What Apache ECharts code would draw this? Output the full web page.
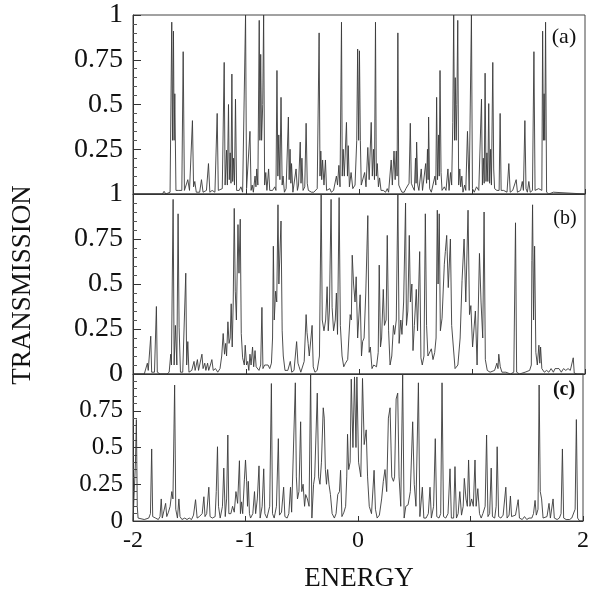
<!DOCTYPE html>
<html>
<head>
<meta charset="utf-8">
<script src="https://cdn.jsdelivr.net/npm/echarts@6/dist/echarts.min.js"></script>
<style>
html,body{margin:0;padding:0;background:#fff;}
#chart{width:592px;height:596px;}
</style>
</head>
<body>
<div id="chart"></div>
<script>
// ---- data: [energy, transmission] ----
const panelA = [[-2.0,0],[-1.74,0],[-1.725,0.015],[-1.71,0],[-1.672,0.01],[-1.657,0.96],[-1.650,0.3],[-1.642,0.91],[-1.636,0.3],[-1.63,0.56],[-1.62,0.02],[-1.60,0.02],[-1.595,0.03],[-1.585,0.01],[-1.568,0.02],[-1.556,0.795],[-1.545,0.02],[-1.53,0.02],[-1.515,0.08],[-1.50,0.02],[-1.487,0.03],[-1.474,0.41],[-1.464,0.04],[-1.453,0.07],[-1.44,0.01],[-1.41,0.01],[-1.394,0.08],[-1.38,0.01],[-1.35,0.02],[-1.332,0.17],[-1.32,0.01],[-1.30,0.02],[-1.29,0.03],[-1.275,0.01],[-1.265,0.02],[-1.255,0.45],[-1.245,0.02],[-1.21,0.03],[-1.193,0.735],[-1.185,0.05],[-1.172,0.245],[-1.165,0.05],[-1.155,0.50],[-1.148,0.08],[-1.14,0.23],[-1.133,0.06],[-1.125,0.67],[-1.118,0.07],[-1.11,0.2],[-1.102,0.05],[-1.093,0.53],[-1.083,0.02],[-1.06,0.02],[-1.045,0.04],[-1.03,0.01],[-1.015,0.02],[-1.004,1.0],[-0.995,0.03],[-0.985,0.02],[-0.965,0.35],[-0.955,0.02],[-0.945,0.05],[-0.935,0.01],[-0.92,0.1],[-0.912,0.04],[-0.905,0.14],[-0.895,0.05],[-0.883,0.97],[-0.877,0.3],[-0.87,0.78],[-0.862,0.3],[-0.852,0.5],[-0.844,1.0],[-0.835,0.05],[-0.825,0.12],[-0.815,0.02],[-0.80,0.14],[-0.79,0.02],[-0.765,0.02],[-0.745,0.04],[-0.735,0.02],[-0.726,0.69],[-0.718,0.1],[-0.71,0.33],[-0.70,0.08],[-0.69,0.54],[-0.68,0.05],[-0.672,0.1],[-0.66,0.01],[-0.645,0.03],[-0.625,0.43],[-0.618,0.08],[-0.61,0.25],[-0.603,0.06],[-0.597,0.17],[-0.585,0.01],[-0.57,0.02],[-0.557,0.14],[-0.545,0.02],[-0.535,0.05],[-0.52,0.29],[-0.513,0.06],[-0.505,0.2],[-0.495,0.02],[-0.48,0.04],[-0.468,0.395],[-0.458,0.06],[-0.448,0.02],[-0.435,0.03],[-0.42,0.01],[-0.40,0.01],[-0.385,0.01],[-0.37,0.03],[-0.353,0.90],[-0.345,0.1],[-0.338,0.24],[-0.33,0.08],[-0.322,0.19],[-0.31,0.05],[-0.297,0.19],[-0.287,0.02],[-0.27,0.01],[-0.258,0.03],[-0.245,0.01],[-0.225,0.02],[-0.20,0.1],[-0.19,0.05],[-0.178,0.16],[-0.168,0.04],[-0.155,0.96],[-0.148,0.1],[-0.14,0.25],[-0.13,0.1],[-0.111,0.40],[-0.102,0.1],[-0.095,0.27],[-0.085,0.04],[-0.07,0.12],[-0.055,0.03],[-0.035,0.05],[-0.02,0.3],[-0.012,0.81],[-0.003,0.3],[0.004,0.8],[0.012,0.3],[0.02,0.05],[0.035,0.04],[0.05,0.12],[0.062,0.04],[0.078,0.26],[0.09,0.08],[0.108,0.40],[0.118,0.1],[0.128,0.25],[0.137,0.08],[0.146,0.96],[0.153,0.1],[0.162,0.17],[0.172,0.04],[0.182,0.09],[0.195,0.02],[0.215,0.02],[0.235,0.01],[0.25,0.03],[0.262,0.01],[0.272,0.02],[0.285,0.19],[0.295,0.05],[0.31,0.24],[0.32,0.08],[0.33,0.24],[0.337,0.1],[0.344,0.90],[0.352,0.05],[0.365,0.03],[0.38,0.01],[0.40,0.01],[0.415,0.03],[0.43,0.02],[0.443,0.06],[0.454,0.395],[0.463,0.06],[0.475,0.04],[0.49,0.02],[0.5,0.2],[0.505,0.06],[0.51,0.29],[0.52,0.05],[0.53,0.02],[0.551,0.14],[0.562,0.02],[0.575,0.01],[0.59,0.17],[0.598,0.06],[0.606,0.25],[0.612,0.08],[0.616,0.43],[0.625,0.03],[0.64,0.01],[0.655,0.02],[0.672,0.1],[0.68,0.05],[0.687,0.54],[0.695,0.08],[0.705,0.33],[0.71,0.1],[0.717,0.69],[0.726,0.12],[0.735,0.02],[0.755,0.04],[0.77,0.02],[0.787,0.14],[0.797,0.02],[0.81,0.12],[0.82,0.05],[0.83,0.4],[0.838,1.0],[0.845,0.3],[0.852,0.65],[0.86,0.3],[0.866,0.5],[0.874,0.97],[0.882,0.05],[0.892,0.14],[0.9,0.04],[0.91,0.1],[0.92,0.01],[0.935,0.05],[0.945,0.02],[0.96,0.35],[0.975,0.02],[0.985,0.03],[0.995,1.0],[1.004,0.03],[1.02,0.01],[1.04,0.04],[1.06,0.02],[1.075,0.03],[1.084,0.53],[1.092,0.05],[1.1,0.2],[1.108,0.06],[1.116,0.675],[1.124,0.07],[1.132,0.23],[1.14,0.07],[1.148,0.505],[1.156,0.06],[1.165,0.25],[1.172,0.05],[1.184,0.735],[1.192,0.14],[1.2,0.03],[1.22,0.02],[1.24,0.02],[1.249,0.45],[1.258,0.02],[1.28,0.02],[1.295,0.03],[1.31,0.01],[1.326,0.17],[1.338,0.01],[1.36,0.02],[1.375,0.01],[1.391,0.08],[1.402,0.01],[1.43,0.02],[1.445,0.07],[1.455,0.02],[1.468,0.41],[1.478,0.03],[1.49,0.01],[1.503,0.07],[1.515,0.01],[1.535,0.02],[1.548,0.795],[1.558,0.02],[1.575,0.01],[1.59,0.03],[1.605,0.02],[1.618,0.02],[1.625,0.91],[1.632,0.3],[1.638,0.56],[1.644,0.3],[1.651,0.96],[1.66,0.01],[1.68,0],[1.72,0.01],[1.73,0],[2.0,0]];

const panelB = [[-2.0,0],[-1.90,0],[-1.885,0.01],[-1.873,0.06],[-1.865,0.02],[-1.858,0.01],[-1.843,0.21],[-1.835,0.01],[-1.81,0.01],[-1.793,0.375],[-1.785,0.01],[-1.76,0],[-1.70,0],[-1.68,0.01],[-1.666,0.11],[-1.66,0.05],[-1.645,0.97],[-1.636,0.05],[-1.625,0.27],[-1.612,0.05],[-1.601,0.89],[-1.592,0.26],[-1.58,0.01],[-1.56,0.01],[-1.533,0.56],[-1.525,0.05],[-1.515,0.18],[-1.505,0.01],[-1.48,0.02],[-1.46,0.07],[-1.45,0.02],[-1.43,0.08],[-1.42,0.02],[-1.405,0.03],[-1.39,0.11],[-1.38,0.03],[-1.365,0.06],[-1.355,0.02],[-1.34,0.06],[-1.33,0.02],[-1.315,0.05],[-1.302,0.08],[-1.29,0.02],[-1.27,0.03],[-1.25,0.01],[-1.23,0.03],[-1.215,0.1],[-1.202,0.225],[-1.19,0.11],[-1.18,0.17],[-1.172,0.1],[-1.16,0.29],[-1.15,0.17],[-1.14,0.2],[-1.131,0.39],[-1.122,0.15],[-1.113,0.4],[-1.104,0.92],[-1.095,0.46],[-1.085,0.3],[-1.071,0.83],[-1.062,0.56],[-1.051,0.86],[-1.042,0.225],[-1.03,0.09],[-1.015,0.05],[-1.007,0.16],[-0.995,0.05],[-0.985,0.07],[-0.975,0.02],[-0.965,0.11],[-0.955,0.05],[-0.942,0.15],[-0.932,0.04],[-0.92,0.13],[-0.91,0.04],[-0.895,0.05],[-0.885,0.02],[-0.87,0.05],[-0.859,0.37],[-0.85,0.03],[-0.835,0.05],[-0.82,0.04],[-0.805,0.05],[-0.79,0.03],[-0.775,0.06],[-0.765,0.2],[-0.758,0.71],[-0.75,0.3],[-0.738,0.46],[-0.728,0.4],[-0.717,0.94],[-0.709,0.5],[-0.7,0.5],[-0.69,0.85],[-0.68,0.24],[-0.67,0.1],[-0.655,0.02],[-0.63,0.02],[-0.608,0.07],[-0.595,0.01],[-0.575,0.02],[-0.552,0.18],[-0.54,0.06],[-0.53,0.04],[-0.515,0.01],[-0.5,0.02],[-0.485,0.07],[-0.468,0.33],[-0.46,0.23],[-0.45,0.17],[-0.44,0.1],[-0.425,0.2],[-0.415,0.27],[-0.405,0.04],[-0.39,0.01],[-0.37,0.02],[-0.35,0.1],[-0.335,1.0],[-0.325,0.3],[-0.31,0.24],[-0.295,0.3],[-0.282,0.485],[-0.272,0.24],[-0.262,0.35],[-0.247,0.97],[-0.238,0.37],[-0.225,0.24],[-0.21,0.3],[-0.2,0.45],[-0.19,0.22],[-0.176,0.98],[-0.165,0.27],[-0.15,0.1],[-0.135,0.04],[-0.12,0.06],[-0.1,0.08],[-0.09,0.2],[-0.078,0.33],[-0.068,0.3],[-0.06,0.66],[-0.048,0.5],[-0.035,0.4],[-0.025,0.54],[-0.012,0.2],[0.01,0.44],[0.022,0.1],[0.032,0.18],[0.045,0.2],[0.06,0.45],[0.078,0.88],[0.09,0.12],[0.1,0.15],[0.115,0.03],[0.13,0.05],[0.155,0.04],[0.17,0.12],[0.179,0.605],[0.19,0.15],[0.2,0.2],[0.215,0.47],[0.225,0.27],[0.24,0.3],[0.25,0.77],[0.262,0.24],[0.275,0.05],[0.29,0.1],[0.305,0.27],[0.315,0.22],[0.33,0.3],[0.344,1.0],[0.355,0.17],[0.37,0.3],[0.38,0.22],[0.395,0.4],[0.412,0.95],[0.42,0.27],[0.432,0.35],[0.445,0.77],[0.455,0.4],[0.468,0.5],[0.478,0.13],[0.49,0.27],[0.507,0.47],[0.518,0.24],[0.537,0.68],[0.548,0.09],[0.56,0.05],[0.575,0.1],[0.587,0.89],[0.598,0.27],[0.61,0.1],[0.625,0.09],[0.64,0.14],[0.655,0.08],[0.67,0.12],[0.682,0.2],[0.693,0.91],[0.7,0.5],[0.71,0.89],[0.72,0.24],[0.735,0.31],[0.755,0.61],[0.764,0.68],[0.776,0.77],[0.79,0.48],[0.809,0.75],[0.82,0.27],[0.835,0.15],[0.85,0.03],[0.875,0.05],[0.895,0.2],[0.912,0.52],[0.93,0.75],[0.945,0.4],[0.965,0.91],[0.978,0.33],[0.99,0.38],[1.005,0.15],[1.03,0.35],[1.045,0.05],[1.066,0.67],[1.08,0.4],[1.095,0.2],[1.107,0.9],[1.118,0.08],[1.135,0.02],[1.16,0.01],[1.2,0.02],[1.22,0.06],[1.23,0.03],[1.237,0.11],[1.25,0.04],[1.265,0.01],[1.3,0.01],[1.34,0],[1.37,0.01],[1.385,0.84],[1.395,0.01],[1.42,0],[1.47,0.01],[1.51,0.02],[1.525,0.05],[1.53,0.63],[1.536,0.94],[1.545,0.3],[1.554,0.71],[1.565,0.12],[1.578,0.05],[1.592,0.16],[1.6,0.06],[1.607,0.15],[1.618,0.03],[1.64,0.01],[1.66,0.02],[1.68,0.01],[1.7,0.03],[1.72,0.01],[1.735,0.03],[1.75,0.02],[1.77,0.03],[1.79,0.01],[1.81,0.03],[1.83,0.02],[1.85,0.03],[1.87,0.02],[1.885,0.01],[1.896,0.09],[1.905,0.005],[1.93,0],[2.0,0]];

const panelC = [[-2.0,0],[-1.985,0.01],[-1.978,0.4],[-1.97,0.69],[-1.962,0.1],[-1.955,0.02],[-1.94,0.01],[-1.9,0.01],[-1.86,0.02],[-1.845,0.05],[-1.834,0.49],[-1.825,0.03],[-1.8,0.02],[-1.775,0.01],[-1.76,0.03],[-1.749,0.15],[-1.74,0.02],[-1.73,0.03],[-1.71,0.12],[-1.7,0.03],[-1.685,0.06],[-1.67,0.1],[-1.655,0.2],[-1.645,0.15],[-1.63,0.925],[-1.62,0.08],[-1.605,0.02],[-1.592,0.15],[-1.582,0.03],[-1.565,0.01],[-1.54,0.02],[-1.52,0.01],[-1.5,0.02],[-1.48,0.01],[-1.462,0.04],[-1.444,0.145],[-1.43,0.02],[-1.41,0.03],[-1.385,0.05],[-1.37,0.165],[-1.36,0.03],[-1.345,0.05],[-1.326,0.23],[-1.315,0.03],[-1.295,0.02],[-1.27,0.03],[-1.26,0.2],[-1.249,0.505],[-1.24,0.1],[-1.225,0.02],[-1.205,0.1],[-1.193,0.36],[-1.18,0.03],[-1.168,0.15],[-1.157,0.585],[-1.148,0.05],[-1.13,0.05],[-1.115,0.1],[-1.1,0.06],[-1.085,0.2],[-1.07,0.12],[-1.054,0.41],[-1.045,0.05],[-1.035,0.13],[-1.025,0.05],[-1.01,0.28],[-1.0,0.415],[-0.99,0.27],[-0.982,0.1],[-0.975,0.27],[-0.965,0.05],[-0.955,0.02],[-0.935,0.05],[-0.92,0.2],[-0.91,0.05],[-0.895,0.15],[-0.88,0.375],[-0.87,0.02],[-0.852,0.1],[-0.838,0.355],[-0.828,0.05],[-0.81,0.02],[-0.795,0.02],[-0.785,0.1],[-0.77,0.935],[-0.76,0.05],[-0.745,0.02],[-0.725,0.1],[-0.708,0.56],[-0.698,0.04],[-0.68,0.06],[-0.661,0.23],[-0.65,0.03],[-0.63,0.02],[-0.615,0.05],[-0.6,0.23],[-0.59,0.06],[-0.575,0.05],[-0.557,0.94],[-0.548,0.3],[-0.538,0.15],[-0.525,0.2],[-0.51,0.675],[-0.5,0.2],[-0.488,0.25],[-0.475,0.1],[-0.465,0.18],[-0.45,0.15],[-0.435,0.1],[-0.421,1.0],[-0.41,0.02],[-0.395,0.25],[-0.385,0.3],[-0.362,0.87],[-0.35,0.3],[-0.338,0.25],[-0.325,0.4],[-0.309,0.77],[-0.3,0.7],[-0.29,0.35],[-0.28,0.25],[-0.27,0.35],[-0.258,0.25],[-0.245,0.18],[-0.23,0.05],[-0.21,0.02],[-0.195,0.05],[-0.18,0.18],[-0.165,0.2],[-0.155,0.345],[-0.143,0.03],[-0.125,0.06],[-0.11,0.1],[-0.1,0.3],[-0.093,0.59],[-0.083,0.35],[-0.07,0.4],[-0.06,0.965],[-0.045,0.5],[-0.031,0.98],[-0.018,0.5],[-0.01,0.98],[0.005,0.4],[0.025,0.3],[0.04,0.97],[0.055,0.52],[0.073,0.62],[0.085,0.3],[0.1,0.1],[0.12,0.05],[0.143,0.345],[0.155,0.08],[0.17,0.02],[0.19,0.04],[0.21,0.15],[0.225,0.27],[0.24,0.35],[0.255,0.2],[0.27,0.7],[0.285,0.77],[0.3,0.3],[0.315,0.27],[0.325,0.3],[0.339,0.83],[0.353,0.87],[0.365,0.3],[0.38,0.1],[0.397,1.0],[0.41,0.02],[0.425,0.1],[0.445,0.11],[0.465,0.2],[0.486,0.675],[0.5,0.25],[0.515,0.1],[0.537,0.94],[0.55,0.03],[0.572,0.23],[0.585,0.02],[0.605,0.02],[0.625,0.05],[0.64,0.23],[0.652,0.02],[0.672,0.1],[0.687,0.56],[0.7,0.03],[0.72,0.02],[0.735,0.05],[0.747,0.94],[0.76,0.03],[0.78,0.02],[0.8,0.05],[0.818,0.355],[0.83,0.02],[0.85,0.02],[0.862,0.37],[0.875,0.02],[0.89,0.05],[0.905,0.2],[0.92,0.04],[0.935,0.1],[0.945,0.29],[0.96,0.15],[0.972,0.1],[0.983,0.415],[0.995,0.1],[1.01,0.15],[1.025,0.1],[1.04,0.415],[1.05,0.1],[1.065,0.22],[1.08,0.05],[1.095,0.02],[1.11,0.05],[1.13,0.1],[1.143,0.585],[1.155,0.03],[1.17,0.05],[1.184,0.36],[1.195,0.03],[1.215,0.02],[1.228,0.1],[1.237,0.505],[1.25,0.03],[1.27,0.02],[1.29,0.04],[1.314,0.23],[1.325,0.02],[1.343,0.04],[1.355,0.17],[1.365,0.03],[1.38,0.02],[1.4,0.04],[1.424,0.145],[1.435,0.02],[1.46,0.01],[1.48,0.03],[1.5,0.01],[1.52,0.02],[1.545,0.02],[1.56,0.05],[1.574,0.14],[1.585,0.04],[1.6,0.08],[1.61,0.925],[1.62,0.2],[1.632,0.15],[1.645,0.02],[1.66,0.02],[1.68,0.03],[1.698,0.12],[1.71,0.02],[1.722,0.03],[1.734,0.15],[1.745,0.02],[1.77,0.01],[1.79,0.02],[1.805,0.05],[1.817,0.49],[1.828,0.02],[1.85,0.01],[1.88,0.01],[1.9,0.02],[1.915,0.03],[1.93,0.08],[1.941,0.69],[1.952,0.02],[1.97,0],[2.0,0]];

const xTickValues = [-2, -1, 0, 1, 2];
const yLabelsA = [0.25, 0.5, 0.75, 1];
const yLabelsB = [0, 0.25, 0.5, 0.75, 1];
const yLabelsC = [0, 0.25, 0.5, 0.75];
const panelTags = ['(a)', '(b)', '(c)'];
const xTitle = 'ENERGY';
const yTitle = 'TRANSMISSION';

// ---- chart ----
const SERIF = '"Liberation Serif", "Times New Roman", "DejaVu Serif", serif';
const chart = echarts.init(document.getElementById('chart'), null, {renderer: 'canvas'});

const grids = [
  {left: 133, right: 7, top: 15, height: 179},
  {left: 133, right: 7, top: 194, height: 180},
  {left: 133, right: 7, top: 374, height: 147}
].map(g => Object.assign(g, {show: true, borderColor: '#444', borderWidth: 1, backgroundColor: 'transparent'}));

function xAx(i, showLabels) {
  return {
    type: 'value', gridIndex: i, min: -2, max: 2, interval: 1,
    axisLine: {show: true, onZero: false, lineStyle: {color: '#333', width: 1}},
    axisTick: {show: true, inside: true, length: 5, lineStyle: {color: '#333'}, customValues: xTickValues},
    axisLabel: {show: showLabels, customValues: xTickValues, fontFamily: SERIF, fontSize: 24, color: '#111', margin: 8},
    splitLine: {show: false}
  };
}
function yAx(i, labels, fs) {
  return {
    type: 'value', gridIndex: i, min: 0, max: 1, interval: 0.25,
    axisLine: {show: true, onZero: false, lineStyle: {color: '#333', width: 1}},
    axisTick: {show: true, inside: true, length: 8, lineStyle: {color: '#333'}},
    minorTick: {show: true, splitNumber: 5, length: 4, lineStyle: {color: '#555'}},
    axisLabel: {customValues: labels, fontFamily: SERIF, fontSize: fs, color: '#111', margin: 10},
    splitLine: {show: false},
    minorSplitLine: {show: false}
  };
}

function ser(i, data) {
  return {
    type: 'line', xAxisIndex: i, yAxisIndex: i, data: data,
    showSymbol: false, symbol: 'none', smooth: false,
    lineStyle: {color: '#3a3a3a', width: 0.9},
    animation: false
  };
}

const option = {
  backgroundColor: '#ffffff',
  animation: false,
  grid: grids,
  xAxis: [xAx(0, false), xAx(1, false), xAx(2, true)],
  yAxis: [yAx(0, yLabelsA, 28), yAx(1, yLabelsB, 28), yAx(2, yLabelsC, 25)],
  series: [ser(0, panelA), ser(1, panelB), ser(2, panelC)],
  graphic: [
    {type: 'text', x: 564, y: 37, style: {text: panelTags[0], font: '22px ' + SERIF, fill: '#111', align: 'center', verticalAlign: 'middle'}},
    {type: 'text', x: 565, y: 219, style: {text: panelTags[1], font: '20px ' + SERIF, fill: '#111', align: 'center', verticalAlign: 'middle'}},
    {type: 'text', x: 564, y: 390, style: {text: panelTags[2], font: 'bold 20px ' + SERIF, fill: '#111', align: 'center', verticalAlign: 'middle'}},
    {type: 'text', x: 359, y: 579, style: {text: xTitle, font: '27px ' + SERIF, fill: '#111', align: 'center', verticalAlign: 'middle'}},
    {type: 'text', x: 23, y: 285, rotation: Math.PI / 2, style: {text: yTitle, font: '27px ' + SERIF, fill: '#111', align: 'center', verticalAlign: 'middle'}}
  ]
};
chart.setOption(option);
</script>
</body>
</html>
